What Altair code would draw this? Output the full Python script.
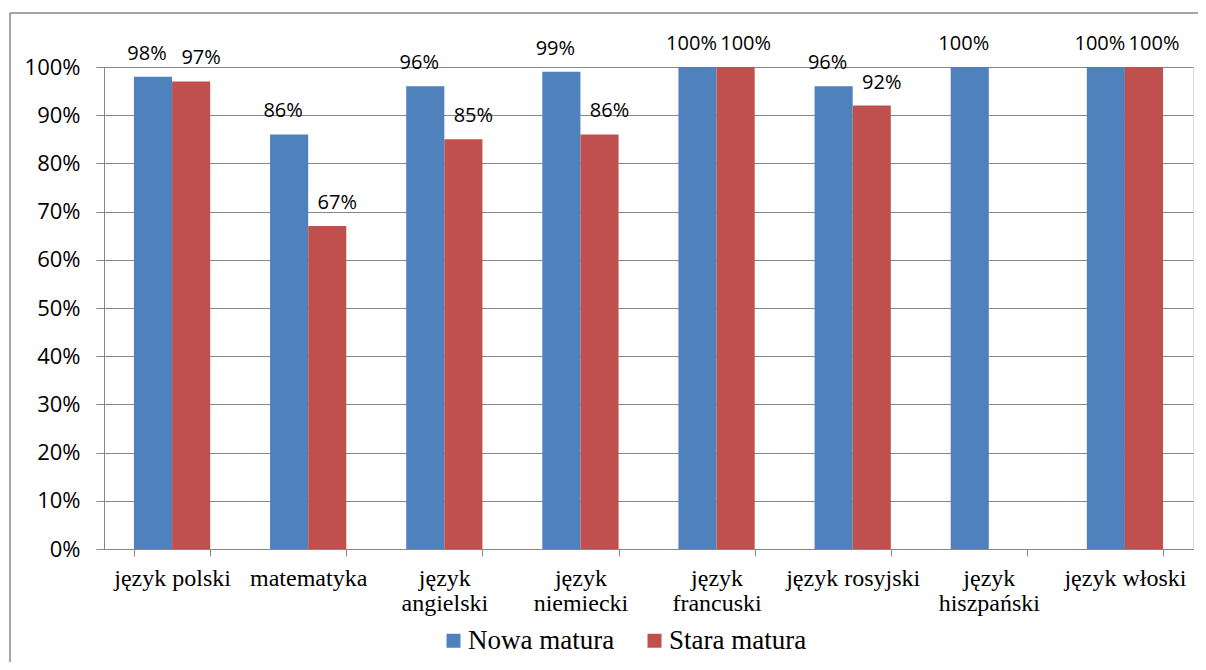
import altair as alt
import pandas as pd

categories = ["język polski", "matematyka", "język angielski", "język niemiecki",
              "język francuski", "język rosyjski", "język hiszpański", "język włoski"]
series = ["Nowa matura", "Stara matura"]
nowa = [98, 86, 96, 99, 100, 96, 100, 100]
stara = [97, 67, 85, 86, 100, 92, None, 100]
colors = ["#4F81BD", "#C0504D"]
y_ticks = [0, 10, 20, 30, 40, 50, 60, 70, 80, 90, 100]
wrapped = ["język angielski", "język niemiecki", "język francuski", "język hiszpański"]

rows = []
for c, a, b in zip(categories, nowa, stara):
    rows.append({"kat": c, "seria": series[0], "val": a})
    if b is not None:
        rows.append({"kat": c, "seria": series[1], "val": b})
df = pd.DataFrame(rows)

GRAY = "#878787"
W, H = 1089, 482

wrap_list = "[" + ",".join("'" + w + "'" for w in wrapped) + "]"

x_enc = alt.X(
    "kat:N", sort=categories, title=None,
    scale=alt.Scale(paddingInner=0.44, paddingOuter=0.22),
    axis=alt.Axis(
        labelAngle=0, tickBand="extent", tickSize=7, tickColor=GRAY,
        domainColor=GRAY, labelFont="Liberation Serif", labelFontSize=24,
        labelColor="black", labelPadding=10, labelLineHeight=25,
        labelExpr="indexof(" + wrap_list + ", datum.value) >= 0 ? split(datum.value, ' ') : datum.value",
    ),
)
y_enc = alt.Y(
    "val:Q", title=None,
    scale=alt.Scale(domain=[0, 100], nice=False),
    axis=alt.Axis(
        values=y_ticks, labelExpr="datum.value + '%'", tickSize=8,
        tickColor=GRAY, domainColor=GRAY, gridColor=GRAY, grid=True,
        labelFont="Open Sans", labelFontSize=22, labelColor="black",
        labelPadding=16,
    ),
)
xoff = alt.XOffset("seria:N", sort=series, scale=alt.Scale(paddingInner=0, paddingOuter=0))

base = alt.Chart(df)

bars = base.mark_bar().encode(
    x=x_enc, y=y_enc, xOffset=xoff,
    color=alt.Color(
        "seria:N", sort=series, title=None,
        scale=alt.Scale(domain=series, range=colors),
        legend=alt.Legend(
            orient="none", legendX=336, legendY=560, direction="horizontal",
            symbolType="square", symbolSize=196, symbolStrokeWidth=0,
            labelFont="Liberation Serif", labelFontSize=27, labelColor="black",
            labelOffset=1, columnPadding=26, padding=0, labelLimit=400,
        ),
    ),
)

labels_blue = base.transform_filter(alt.datum.seria == series[0]).transform_calculate(
    lab="datum.val + '%'"
).mark_text(font="Open Sans", fontSize=20, color="black", baseline="alphabetic", dy=-17, dx=-6).encode(
    x=alt.X("kat:N", sort=categories), y="val:Q", xOffset=xoff, text="lab:N"
)
labels_red = base.transform_filter(alt.datum.seria == series[1]).transform_calculate(
    lab="datum.val + '%'"
).mark_text(font="Open Sans", fontSize=20, color="black", baseline="alphabetic", dy=-17, dx=10).encode(
    x=alt.X("kat:N", sort=categories), y="val:Q", xOffset=xoff, text="lab:N"
)

frame_data = alt.Data(values=[{}])
frame_left = alt.Chart(frame_data).mark_rule(color=GRAY, strokeWidth=1.5).encode(
    x=alt.value(-94), y=alt.value(-54), y2=alt.value(700)
)
frame_top = alt.Chart(frame_data).mark_rule(color=GRAY, strokeWidth=1.5).encode(
    x=alt.value(-94), x2=alt.value(1300), y=alt.value(-54)
)

chart = alt.layer(frame_left, frame_top, bars, labels_blue, labels_red).properties(
    width=W, height=H,
    autosize=alt.AutoSizeParams(type="none"),
    padding={"left": 96, "top": 59, "right": 5, "bottom": 113},
).configure_view(stroke=None).configure(background="white")

chart.save("out.html", embed_options={"renderer": "svg", "actions": False})
